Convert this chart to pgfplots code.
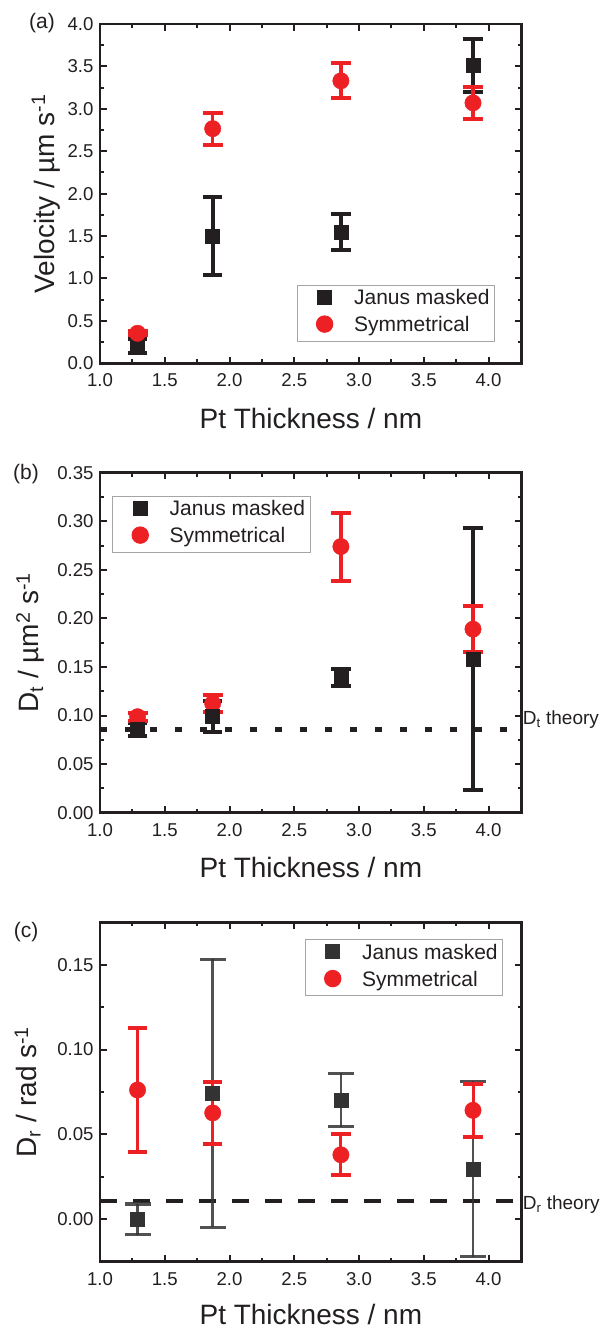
\documentclass[border=0pt]{standalone}
\usepackage{fontspec}
\setmainfont{Liberation Sans}
\usepackage{pgfplots}
\pgfplotsset{compat=1.18}

\definecolor{ink}{RGB}{35,31,32}
\definecolor{cred}{RGB}{237,32,36}
\definecolor{cgray}{RGB}{51,51,51}
\definecolor{lgray}{RGB}{165,165,165}

\newcommand{\tickfont}{\fontsize{18.6bp}{20bp}\selectfont}
\newcommand{\labfont}{\fontsize{28bp}{32bp}\selectfont}
\newcommand{\legfont}{\fontsize{21bp}{24bp}\selectfont}

\pgfplotsset{
  panel/.style={
    width=421.7bp, scale only axis,
    xmin=1, xmax=4.256,
    xtick={1,1.5,2,2.5,3,3.5,4},
    minor xtick={1.25,1.75,2.25,2.75,3.25,3.75,4.25},
    axis line style={line width=2.5bp, ink},
    every tick/.style={line width=2bp, ink},
    major tick length=6.7bp, minor tick length=4bp,
    tick align=inside,
    scaled ticks=false,
    /pgf/number format/assume math mode=true,
    tick label style={font=\tickfont, text=ink},
    xticklabel style={/pgf/number format/.cd, fixed, fixed zerofill, precision=1, /tikz/.cd, yshift=-7bp},
    yticklabel style={xshift=-3bp},
    label style={font=\labfont, text=ink},
    xlabel={Pt Thickness / nm},
    xlabel style={at={(rel axis cs:0.5,0)}, anchor=base, yshift=-64.7bp},
    ylabel style={anchor=base},
    clip=false,
    legend style={draw=lgray, line width=1bp, fill=white, font=\legfont, text=ink,
      inner xsep=3bp, inner ysep=2.6bp, row sep=2.7bp,
      nodes={inner sep=2bp, text height=15bp, text depth=5bp},
      cells={anchor=base west}},
    legend image code/.code={\path (0bp,0bp) (51bp,0bp); \draw[##1] plot coordinates {(24bp,7.5bp)};},
  },
  janus/.style={only marks, mark=square*, mark size=7bp, color=ink},
  sym/.style={only marks, mark=*, mark size=8.2bp, color=cred},
  barsonly/.style={only marks, mark=*, mark size=0.5bp, mark options={opacity=0}},
}

\begin{document}
\begin{tikzpicture}
\useasboundingbox (0,0) rectangle (606bp,-1328bp);

% (a) velocity
\begin{axis}[panel, height=339.3bp, at={(100bp,-24bp)}, anchor=north west,
  ymin=0, ymax=4,
  ytick={0,0.5,1,1.5,2,2.5,3,3.5,4},
  minor ytick={0.25,0.75,1.25,1.75,2.25,2.75,3.25,3.75},
  yticklabel style={/pgf/number format/.cd, fixed, fixed zerofill, precision=1},
  ylabel={Velocity / µm s\textsuperscript{-1}},
  ylabel style={at={(axis description cs:-0.109,0.5)}},
  legend style={at={(0.9367,0.0637)}, anchor=south east}]
\addplot[janus, forget plot, error bars/.cd, y dir=both, y explicit,
  error bar style={line width=4bp, ink},
  error mark options={rotate=90, mark size=9.7bp, line width=4bp, ink}]
  table[y error=e] {
x y e
1.29 0.208 0.083
1.87 1.50 0.455
2.86 1.545 0.215
3.88 3.51 0.31
};
\addplot[sym, forget plot, error bars/.cd, y dir=both, y explicit,
  error bar style={line width=3.5bp, cred},
  error mark options={rotate=90, mark size=10bp, line width=4bp, cred}]
  table[y error=e] {
x y e
1.29 0.354 0.025
1.87 2.766 0.19
2.86 3.33 0.205
3.88 3.07 0.19
};
\addlegendimage{janus}
\addlegendentry{Janus masked}
\addlegendimage{sym}
\addlegendentry{Symmetrical}
\end{axis}

% (b) translational diffusion
\begin{axis}[panel, height=340bp, at={(100bp,-472.7bp)}, anchor=north west,
  ymin=0, ymax=0.35,
  ytick={0,0.05,0.1,0.15,0.2,0.25,0.3,0.35},
  minor ytick={0.025,0.075,0.125,0.175,0.225,0.275,0.325},
  yticklabel style={/pgf/number format/.cd, fixed, fixed zerofill, precision=2},
  ylabel={D\textsubscript{t} / µm\textsuperscript{2} s\textsuperscript{-1}},
  ylabel style={at={(axis description cs:-0.1447,0.5)}},
  legend style={at={(0.029,0.932)}, anchor=north west}]
\addplot[ink, line width=4.5bp, dash pattern=on 7.3bp off 17.7bp, forget plot]
  coordinates {(1,0.0858) (4.22,0.0858)};
\addplot[sym, forget plot] table {
x y
1.29 0.0988
1.87 0.1125
2.86 0.274
3.88 0.189
};
\addplot[janus, forget plot, error bars/.cd, y dir=both, y explicit,
  error bar style={line width=4bp, ink},
  error mark options={rotate=90, mark size=9.7bp, line width=4bp, ink}]
  table[y error=e] {
x y e
1.29 0.0858 0.0065
1.87 0.099 0.0155
2.86 0.139 0.009
3.88 0.158 0.135
};
\addplot[barsonly, forget plot, error bars/.cd, y dir=both, y explicit,
  error bar style={line width=3.5bp, cred},
  error mark options={rotate=90, mark size=10bp, line width=4bp, cred}]
  table[y error=e] {
x y e
1.29 0.0988 0.004
1.87 0.1125 0.0085
2.86 0.274 0.035
3.88 0.189 0.0235
};
\addlegendimage{janus}
\addlegendentry{Janus masked}
\addlegendimage{sym}
\addlegendentry{Symmetrical}
\node[anchor=base west, inner sep=0pt, font=\fontsize{19bp}{22bp}\selectfont, text=ink,
  xshift=1bp, yshift=4.5bp] at (axis cs:4.256,0.0858) {D\textsubscript{t} theory};
\end{axis}

% (c) rotational diffusion
\begin{axis}[panel, height=339.4bp, at={(100bp,-922.3bp)}, anchor=north west,
  ymin=-0.025, ymax=0.175,
  ytick={0,0.05,0.1,0.15},
  minor ytick={-0.025,0.025,0.075,0.125,0.175},
  yticklabel style={/pgf/number format/.cd, fixed, fixed zerofill, precision=2},
  ylabel={D\textsubscript{r} / rad s\textsuperscript{-1}},
  ylabel style={at={(axis description cs:-0.1494,0.5)}},
  xlabel style={yshift=2bp},
  legend style={at={(0.956,0.95)}, anchor=north east}]
\addplot[ink, line width=4bp, dash pattern=on 17bp off 16bp, forget plot]
  coordinates {(1,0.0106) (4.22,0.0106)};
\addplot[sym, forget plot] table {
x y
1.29 0.0762
1.87 0.0627
2.86 0.038
3.88 0.0642
};
\addplot[janus, color=cgray, forget plot, error bars/.cd, y dir=both, y explicit,
  error bar style={line width=2.7bp, cgray, opacity=0.85},
  error mark options={rotate=90, mark size=13bp, line width=3.3bp, cgray, opacity=0.85}]
  table[y error=e] {
x y e
1.29 0.000 0.009
1.87 0.0742 0.079
2.86 0.0703 0.0158
3.88 0.0296 0.0517
};
\addplot[barsonly, forget plot, error bars/.cd, y dir=both, y explicit,
  error bar style={line width=3bp, cred},
  error mark options={rotate=90, mark size=9.7bp, line width=4bp, cred}]
  table[y error=e] {
x y e
1.29 0.0762 0.0365
1.87 0.0627 0.0182
2.86 0.038 0.012
3.88 0.0642 0.0157
};
\addlegendimage{janus, color=cgray}
\addlegendentry{Janus masked}
\addlegendimage{sym}
\addlegendentry{Symmetrical}
\node[anchor=base west, inner sep=0pt, font=\fontsize{19bp}{22bp}\selectfont, text=ink,
  xshift=1bp, yshift=-8bp] at (axis cs:4.256,0.0106) {D\textsubscript{r} theory};
\end{axis}

\node[font=\fontsize{21bp}{24bp}\selectfont, text=ink] at (42bp,-23bp) {(a)};
\node[font=\fontsize{21bp}{24bp}\selectfont, text=ink] at (26bp,-474bp) {(b)};
\node[font=\fontsize{21bp}{24bp}\selectfont, text=ink] at (26bp,-932.5bp) {(c)};
\end{tikzpicture}
\end{document}
